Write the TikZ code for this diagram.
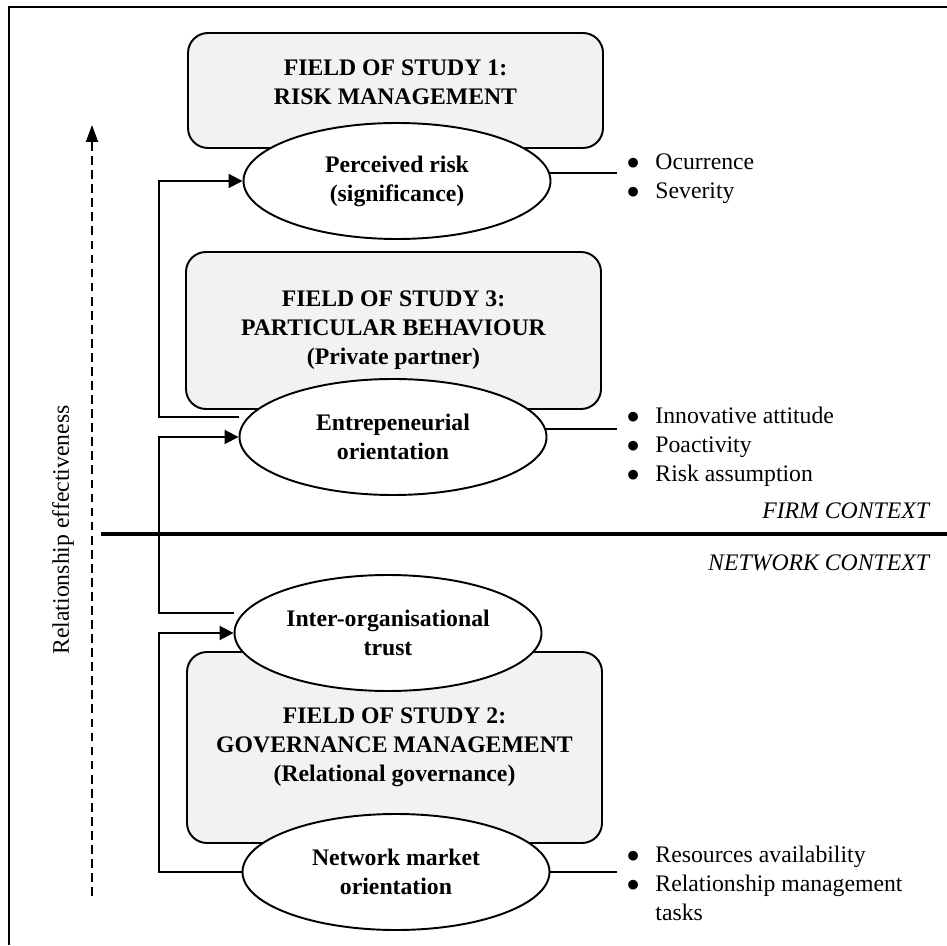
\documentclass[tikz,border=0pt]{standalone}
\usepackage{fontspec}
\setmainfont{Liberation Serif}
\usetikzlibrary{arrows.meta}
\usetikzlibrary{shapes.geometric}
\usetikzlibrary{calc,positioning}

\begin{document}
\begin{tikzpicture}[>={Triangle[length=2.8mm,width=2.8mm]}, line width=1.1pt,
    field/.style = {draw, rounded corners=4mm, fill=gray!10, minimum width=8.3cm},
    title/.style = {font=\bfseries\fontsize{13.5}{16.5}\selectfont, align=center},
    factor/.style = {draw, ellipse, fill=white, inner sep=0pt, minimum width=6.14cm,
                     minimum height=2.32cm, font=\bfseries\fontsize{13.5}{16.5}\selectfont, align=center},
    items/.style = {anchor=west, inner sep=0pt, font=\fontsize{13.5}{16.5}\selectfont},
    context/.style = {anchor=east, inner sep=0pt, font=\itshape\fontsize{13.5}{16.5}\selectfont}]

    \useasboundingbox (0,0) rectangle (18.94,18.9);
    \draw[line width=1.4pt] (0.18,0) -- (0.18,18.76) -- (18.94,18.76);

    % fields of study
    \node[field, minimum height=2.3cm] (fs1) at (7.91,17.09) {};
    \node[title] (fs1 title) at (7.91,17.26) {FIELD OF STUDY 1:\\RISK MANAGEMENT};
    \node[field, title, minimum height=3.14cm] (fs3) at (7.87,12.29) {FIELD OF STUDY 3:\\PARTICULAR BEHAVIOUR\\(Private partner)};
    \node[field, title, minimum height=3.82cm] (fs2) at (7.89,3.95) {FIELD OF STUDY 2:\\GOVERNANCE MANAGEMENT\\(Relational governance)};

    % factors
    \node[factor] (risk) at (7.94,15.28) {Perceived risk\\(significance)};
    \node[factor] (entre) at (7.86,10.16) {Entrepeneurial\\orientation};
    \node[factor] (trust) at (7.76,6.24) {Inter-organisational\\trust};
    \node[factor] (netmo) at (7.92,1.46) {Network market\\orientation};

    % items
    \node[items] (risk items) at (12.52,15.34) {\begin{tabular}{@{}l@{\hspace{9pt}}l@{}}
        $\bullet$ & Ocurrence\\ $\bullet$ & Severity\end{tabular}};
    \node[items] (entre items) at (12.52,9.96) {\begin{tabular}{@{}l@{\hspace{9pt}}l@{}}
        $\bullet$ & Innovative attitude\\ $\bullet$ & Poactivity\\ $\bullet$ & Risk assumption\end{tabular}};
    \node[items] (netmo items) at (12.52,1.18) {\begin{tabular}{@{}l@{\hspace{9pt}}l@{}}
        $\bullet$ & Resources availability\\ $\bullet$ & Relationship management\\ & tasks\end{tabular}};

    \coordinate (items x) at (12.34,0);
    \draw (risk.3) -- (risk.3 -| items x);
    \draw (entre.3) -- (entre.3 -| items x);
    \draw (netmo.east) -- (netmo.east -| items x);

    % contexts
    \draw[line width=2.2pt] (2.02,8.22) -- (18.94,8.22);
    \node[context] (firm) at (18.6,8.68) {FIRM CONTEXT};
    \node[context] (network) at (18.6,7.64) {NETWORK CONTEXT};

    % feedback
    \coordinate (back) at (3.18,0);
    \draw[->] ($(entre.west)+(0,0.4)$) -| (back |- risk.west) -- (risk.west);
    \draw[->] ($(trust.west)+(0,0.4)$) -| (back |- entre.west) -- (entre.west);
    \draw[->] (netmo.west) -| (back |- trust.west) -- (trust.west);

    % effectiveness
    \draw[->, >={Triangle[length=3.4mm,width=2.4mm]}, dash pattern=on 5pt off 3pt]
        (1.84,0.98) coordinate (eff low) -- (1.84,16.4) coordinate (eff high);
    \node[rotate=90, font=\fontsize{13.5}{16.5}\selectfont] (eff) at (1.26,8.3) {Relationship effectiveness};

\end{tikzpicture}
\end{document}
